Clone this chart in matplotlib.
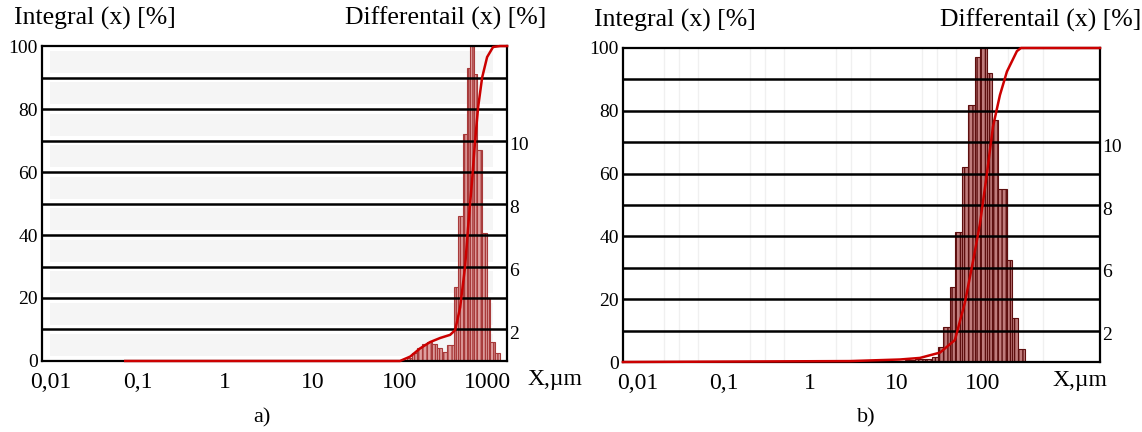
import numpy as np
import matplotlib
matplotlib.use("Agg")
import matplotlib.pyplot as plt

plt.rcParams["font.family"] = ["Liberation Serif", "DejaVu Serif"]

# =================================
# DATA
# =================================

# panel a) differential histogram: bin edges in um and heights
a_edges = [120, 137, 157, 179, 204, 233, 266, 303, 346, 420, 462, 527, 586,
           634, 705, 763, 870, 994, 1075, 1226, 1398]
a_heights = [1, 2.5, 4, 5.5, 6, 5.5, 4, 3, 5, 23.5, 46, 72, 93,
             100, 91, 67, 40.6, 20, 6, 2.5]

# panel a) integral curve
a_curve_x = [0.072, 100, 131, 170, 221, 288, 375, 428, 488, 556, 602, 669,
             724, 784, 871, 993, 1162, 1397, 1680]
a_curve_y = [0, 0, 1.4, 4, 6, 7.3, 8.3, 9.8, 17, 30, 42.5, 57.5,
             70, 80.6, 90, 96.5, 99.7, 100, 100]

# panel b) differential histogram
b_edges = [12.6, 16.5, 21.5, 26, 30.5, 34.8, 42, 48, 58, 68, 82, 94, 113,
           129, 152, 193, 221, 259, 312]
b_heights = [0.5, 1, 1, 1.5, 4.8, 11, 24, 41.5, 62, 82, 97, 100, 92,
             77, 55, 32.5, 14, 4]

# panel b) integral curve
b_curve_x = [0.0067, 2.9, 11, 18.8, 32.2, 48, 62.8, 77.8, 93.8, 113, 133,
             160, 193, 252, 281, 2323]
b_curve_y = [0, 0.3, 0.8, 1.3, 3, 7, 19, 32, 44, 60, 75,
             85, 92.5, 99, 100, 100]

x_ticks = [0.01, 0.1, 1, 10, 100, 1000]
x_labels_a = ["0,01", "0,1", "1", "10", "100", "1000"]
x_ticks_b = [0.01, 0.1, 1, 10, 100]
x_labels_b = ["0,01", "0,1", "1", "10", "100"]
y_ticks = [0, 20, 40, 60, 80, 100]
diff_pos = [70, 50, 30, 10]
diff_labels = ["10", "8", "6", "2"]

# =================================
# FIGURE
# =================================

fig = plt.figure(figsize=(11.42, 4.32), dpi=100)
ax_a = fig.add_axes([0.0368, 0.1644, 0.4072, 0.729])
ax_b = fig.add_axes([0.5455, 0.162, 0.4177, 0.7269])


def draw_panel(ax, edges, heights, cx, cy, xlim, ticks, labels, bar_face, bar_edge):
    ax.set_xscale("log")
    ax.set_xlim(*xlim)
    ax.set_ylim(0, 100)

    left = np.array(edges[:-1])
    width = np.array(edges[1:]) - left
    ax.bar(left, heights, width=width, align="edge", facecolor=bar_face,
           edgecolor=bar_edge, hatch="||||", linewidth=0.8, zorder=2)

    for y in range(10, 100, 10):
        ax.axhline(y, color="black", lw=1.8, zorder=3)

    for s in ax.spines.values():
        s.set_linewidth(1.6)
        s.set_color("black")
        s.set_zorder(5)

    ax.plot(cx, cy, color="#cc0000", lw=1.8, zorder=6, clip_on=False)

    ax.set_xticks(ticks)
    ax.set_xticklabels(labels, fontsize=17)
    ax.xaxis.set_minor_locator(matplotlib.ticker.NullLocator())
    ax.set_yticks(y_ticks)
    ax.set_yticklabels([str(v) for v in y_ticks], fontsize=14)
    ax.tick_params(axis="x", length=0, pad=8)
    ax.tick_params(axis="y", length=0, pad=3)

    trans = ax.get_yaxis_transform()
    for pos, lab in zip(diff_pos, diff_labels):
        ax.text(1.004, pos - 1.6, lab, transform=trans, fontsize=14,
                ha="left", va="center")


draw_panel(ax_a, a_edges, a_heights, a_curve_x, a_curve_y,
           (0.00804, 1679), x_ticks, x_labels_a, "#dfa0a0", "#a83a3a")
draw_panel(ax_b, b_edges, b_heights, b_curve_x, b_curve_y,
           (0.0067, 2323), x_ticks_b, x_labels_b, "#c07c7c", "#5e0f0f")

# light grey bands in panel a
for y0 in range(0, 100, 10):
    ax_a.axhspan(y0 + 1.5, y0 + 8.5, xmin=0.018, xmax=0.97,
                 color="#f5f5f5", lw=0, zorder=0)

# faint vertical lines in panel b
for xv in [0.02, 0.03, 0.05, 0.2, 0.3, 0.5, 2, 3, 5, 20, 30, 50, 200, 300, 500]:
    ax_b.axvline(xv, color="#f0f0f0", lw=1, zorder=0)

# axis titles
fig.text(14 / 1142, 1 - 18 / 432, "Integral (x) [%]", fontsize=18.5,
         ha="left", va="center")
fig.text(345 / 1142, 1 - 18 / 432, "Differentail (x) [%]", fontsize=18.5,
         ha="left", va="center")
fig.text(594 / 1142, 1 - 20 / 432, "Integral (x) [%]", fontsize=18.5,
         ha="left", va="center")
fig.text(940 / 1142, 1 - 20 / 432, "Differentail (x) [%]", fontsize=18.5,
         ha="left", va="center")

ax_a.text(1.043, -0.06, "X,µm", transform=ax_a.transAxes, fontsize=17,
          ha="left", va="center")
ax_b.text(0.8994, -0.06, "X,µm", transform=ax_b.transAxes, fontsize=17,
          ha="left", va="center")

fig.text(262 / 1142, 1 - 418 / 432, "a)", fontsize=16, ha="center", va="center")
fig.text(866 / 1142, 1 - 418 / 432, "b)", fontsize=16, ha="center", va="center")

plt.savefig("out.png", dpi=100)
